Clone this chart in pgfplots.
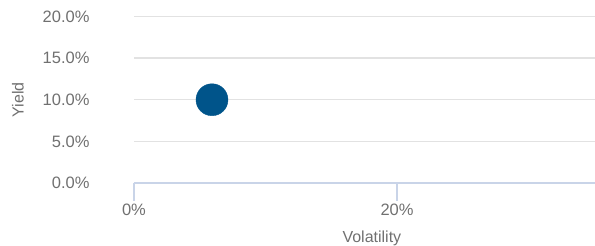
\documentclass[border=0pt]{standalone}
\usepackage{pgfplots}
\pgfplotsset{compat=1.18}
\usepackage{fontspec}
\setmainfont{Liberation Sans}
\definecolor{tickgray}{HTML}{707070}
\definecolor{gridgray}{HTML}{E2E2E2}
\definecolor{axisblue}{HTML}{C9D4E8}
\definecolor{dotblue}{HTML}{00548A}
\begin{document}
\begin{tikzpicture}
\useasboundingbox (-134pt,-63pt) rectangle (461pt,183pt);
\begin{axis}[
  scale only axis, width=461pt, height=166.5pt,
  xmin=0, xmax=35.05, ymin=0, ymax=20,
  clip=false,
  axis x line*=bottom, axis y line*=left,
  x axis line style={axisblue, line width=1.5pt},
  y axis line style={draw=none},
  ymajorgrids, grid style={gridgray, line width=1.5pt},
  ytick={0,5,10,15,20},
  xtick={0,20},
  /pgf/number format/assume math mode=true,
  yticklabel={\pgfmathprintnumber[fixed,fixed zerofill,precision=1]{\tick}\%},
  xticklabel={\pgfmathprintnumber[fixed,precision=0]{\tick}\%},
  tick label style={font=\fontsize{16.5}{19}\selectfont, text=tickgray},
  yticklabel style={xshift=-23pt},
  xticklabel style={yshift=1pt},
  ytick style={draw=none},
  tick align=outside,
  xtick style={axisblue, line width=1.5pt},
  major tick length=18pt,
  xlabel={Volatility}, ylabel={Yield},
  label style={font=\fontsize{16}{19}\selectfont, text=tickgray},
  xlabel style={at={(axis description cs:0.516,-0.33)}, anchor=center},
  ylabel style={at={(axis description cs:-0.2516,0.4985)}, anchor=center},
]
\addplot[only marks, mark=*, mark size=16pt, color=dotblue, mark options={draw=dotblue, fill=dotblue}] coordinates {(5.93,10)};
\end{axis}
\end{tikzpicture}
\end{document}
